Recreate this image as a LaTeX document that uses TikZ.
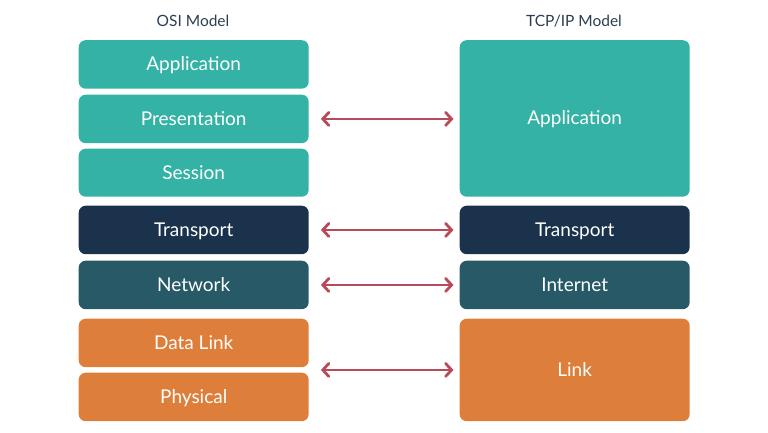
\documentclass[tikz,border=0pt]{standalone}
\usepackage{fontspec}
\setmainfont{Lato}
\usetikzlibrary{arrows.meta,calc}
\definecolor{tealc}{HTML}{33B2A5}
\definecolor{navyc}{HTML}{1B324D}
\definecolor{dteal}{HTML}{275A66}
\definecolor{orangec}{HTML}{DD7F3A}
\definecolor{arrowc}{HTML}{B94A5A}
\definecolor{titlec}{HTML}{2C3E50}
\tikzset{
  layer/.style={rounded corners=7pt, minimum width=230pt, inner sep=0pt, text=white, font=\fontsize{19}{22}\selectfont, text height=13pt, text depth=0pt, anchor=north west},
  title/.style={text=titlec, font=\fontsize{15.5}{19}\selectfont},
  link/.style={draw=arrowc, line width=2.8pt, {Straight Barb[length=6pt,width=13pt,line cap=round]}-{Straight Barb[length=6pt,width=13pt,line cap=round]}, shorten <=12pt, shorten >=6pt}
}
\begin{document}
\begin{tikzpicture}[x=1pt,y=-1pt]
\useasboundingbox (0,0) rectangle (768,432);
\node[title] (osi) at (193,21) {OSI Model};
\node[title] (tcp) at (574,21) {TCP/IP Model};
% OSI
\node[layer, fill=tealc, minimum height=48.5pt] (app) at (78.5,40) {Application};
\node[layer, fill=tealc, minimum height=48.5pt] (pres) at (78.5,94.5) {Presentation};
\node[layer, fill=tealc, minimum height=48pt] (sess) at (78.5,148.5) {Session};
\node[layer, fill=navyc, minimum height=48.5pt] (trans) at (78.5,205.5) {Transport};
\node[layer, fill=dteal, minimum height=48.5pt] (net) at (78.5,260.5) {Network};
\node[layer, fill=orangec, minimum height=48.5pt] (dlink) at (78.5,318.5) {Data Link};
\node[layer, fill=orangec, minimum height=48.5pt] (phys) at (78.5,372.5) {Physical};
% TCP/IP
\node[layer, fill=tealc, minimum height=156.5pt] (app2) at (459.5,40) {Application};
\node[layer, fill=navyc, minimum height=48.5pt] (trans2) at (459.5,205.5) {Transport};
\node[layer, fill=dteal, minimum height=48.5pt] (inet) at (459.5,260.5) {Internet};
\node[layer, fill=orangec, minimum height=102.5pt] (lnk) at (459.5,318.5) {Link};
\coordinate (dlp) at ($(dlink.south east)!0.5!(phys.north east)$);
% arrows
\draw[link] (pres.east) -- (pres.east -| app2.west);
\draw[link] (trans.east) -- (trans2.west);
\draw[link] (net.east) -- (inet.west);
\draw[link] (dlp) -- (dlp -| lnk.west);
\end{tikzpicture}
\end{document}
